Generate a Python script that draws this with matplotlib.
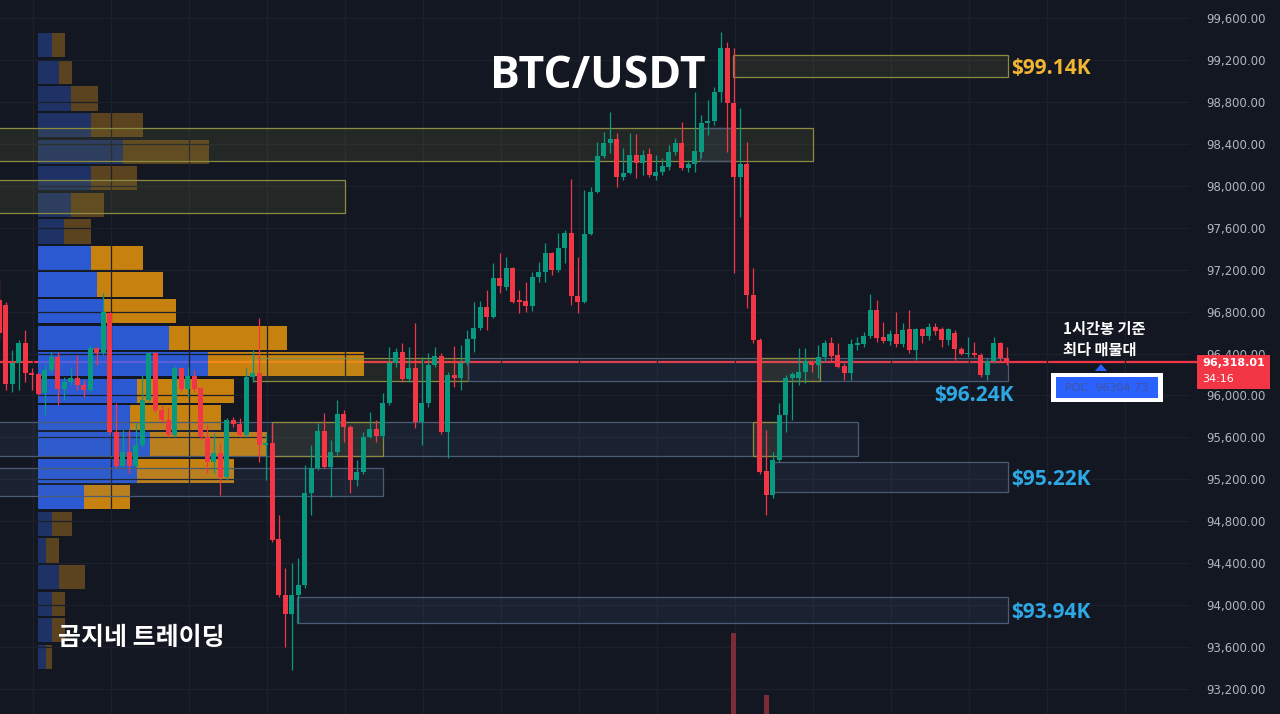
import numpy as np
import matplotlib.pyplot as plt
from matplotlib.patches import Rectangle, Polygon
from matplotlib.ticker import FuncFormatter

# 1h candles, oldest first (first one is cut at the left edge)
opens = [96910, 96860, 96110, 96310, 96500, 96213, 96204, 96023, 96242, 96367,
         96061, 96128, 96166, 96099, 96051, 96452, 96404, 96786, 95651, 95327,
         95460, 95327, 95527, 95956, 96404, 95861, 95765, 95622, 96261, 96061,
         96185, 96071, 95603, 95365, 95450, 95222, 95765, 95727, 95622, 96176,
         96213, 95527, 95546, 94630, 94096, 93915, 94096, 94191, 95069, 95307,
         95660, 95317, 95460, 95823, 95699, 95193, 95269, 95603, 95680, 95613,
         95928, 96309, 96414, 96156, 96261, 95746, 95928, 96290, 96376, 95651,
         96194, 96166, 96309, 96538, 96643, 96843, 96748, 97120, 97034, 97215,
         96910, 96900, 96853, 97130, 97177, 97358, 97196, 97411, 97549, 96948,
         96891, 97540, 97940, 98284, 98408, 98446, 98084, 98122, 98293, 98217,
         98303, 98093, 98131, 98179, 98322, 98408, 98170, 98208, 98322, 98598,
         98618, 98894, 99314, 98790, 98084, 98208, 96958, 96528, 95279, 95050,
         95384, 95813, 96166, 96166, 96223, 96318, 96290, 96367, 96500, 96385,
         96280, 96213, 96481, 96490, 96567, 96815, 96557, 96519, 96586, 96490,
         96634, 96433, 96634, 96567, 96653, 96634, 96528, 96595, 96443, 96395,
         96404, 96385, 96194, 96328, 96500, 96357]
highs = [97120, 96890, 96433, 96528, 96624, 96261, 96213, 96290, 96414, 96414,
         96176, 96261, 96385, 96147, 96481, 96461, 96977, 96796, 95928, 95670,
         95670, 95737, 96194, 96414, 96414, 95909, 95890, 96280, 96271, 96271,
         96242, 96080, 95718, 95641, 95546, 95784, 95794, 95784, 96261, 96433,
         96738, 95641, 95737, 94859, 94353, 94401, 94449, 95336, 95527, 95737,
         95832, 95574, 95956, 95861, 95718, 95384, 95651, 95842, 95765, 96023,
         96461, 96452, 96500, 96461, 96691, 96367, 96404, 96461, 96404, 96223,
         96471, 96481, 96624, 96891, 96900, 97005, 97263, 97358, 97320, 97225,
         97005, 97082, 97177, 97273, 97454, 97368, 97549, 97578, 98065, 97320,
         97959, 97988, 98417, 98513, 98704, 98503, 98360, 98503, 98494, 98341,
         98360, 98293, 98265, 98389, 98456, 98608, 98246, 98894, 98675, 98818,
         98942, 99467, 99371, 99314, 98742, 98417, 97215, 96548, 95670, 95460,
         95928, 96194, 96223, 96452, 96452, 96338, 96481, 96528, 96557, 96500,
         96309, 96538, 96557, 96605, 96967, 96910, 96700, 96624, 96796, 96691,
         96815, 96643, 96643, 96691, 96691, 96653, 96643, 96624, 96461, 96557,
         96509, 96404, 96357, 96557, 96509, 96461]
lows = [96528, 96051, 96032, 96051, 96128, 96051, 96004, 95813, 96213, 95909,
        95956, 96099, 96051, 95985, 96032, 96290, 96385, 95632, 95307, 95317,
        95260, 95317, 95508, 95937, 95842, 95746, 95603, 95603, 96042, 95985,
        96032, 95574, 95260, 95260, 95050, 95193, 95699, 95603, 95603, 96128,
        95365, 95193, 94601, 94077, 93599, 93380, 93829, 94162, 94859, 95288,
        95307, 95030, 95431, 95555, 95069, 95136, 95250, 95593, 95555, 95593,
        95909, 96271, 96128, 96128, 95689, 95527, 95890, 96271, 95632, 95403,
        96080, 96051, 96290, 96414, 96624, 96624, 96738, 96977, 97005, 96881,
        96786, 96796, 96805, 97082, 97082, 97148, 97177, 97263, 96862, 96786,
        96881, 97530, 97930, 98265, 98313, 97988, 98055, 98112, 98074, 98103,
        98084, 98055, 98103, 98150, 98293, 98150, 98131, 98131, 98265, 98484,
        98580, 98799, 98322, 97168, 97702, 96834, 96500, 95250, 94859, 95021,
        95365, 95651, 95765, 96099, 96118, 96223, 96166, 96318, 96318, 96261,
        96147, 96147, 96433, 96461, 96548, 96509, 96500, 96481, 96461, 96461,
        96404, 96338, 96500, 96528, 96576, 96461, 96481, 96338, 96385, 96367,
        96367, 96176, 96147, 96309, 96318, 96290]
closes = [96595, 96110, 96310, 96500, 96213, 96194, 96013, 96242, 96367, 96061,
          96128, 96166, 96099, 96051, 96452, 96404, 96796, 95651, 95327, 95460,
          95327, 95527, 95956, 96404, 95861, 95765, 95622, 96261, 96061, 96185,
          96061, 95603, 95365, 95450, 95222, 95765, 95727, 95622, 96176, 96213,
          95527, 95546, 94620, 94096, 93915, 94096, 94191, 95069, 95307, 95660,
          95317, 95460, 95823, 95699, 95193, 95269, 95603, 95680, 95613, 95928,
          96309, 96414, 96156, 96261, 95746, 95928, 96290, 96376, 95651, 96194,
          96166, 96309, 96538, 96643, 96843, 96748, 97120, 97044, 97215, 96891,
          96891, 96853, 97130, 97177, 97358, 97196, 97411, 97549, 96948, 96891,
          97540, 97940, 98284, 98408, 98446, 98084, 98122, 98293, 98217, 98293,
          98103, 98131, 98189, 98322, 98408, 98170, 98208, 98332, 98598, 98618,
          98894, 99314, 98790, 98084, 98208, 96958, 96528, 95269, 95050, 95384,
          95813, 96166, 96204, 96223, 96328, 96290, 96367, 96500, 96376, 96271,
          96213, 96490, 96500, 96567, 96815, 96548, 96519, 96586, 96490, 96624,
          96433, 96634, 96567, 96653, 96615, 96528, 96634, 96443, 96395, 96404,
          96385, 96194, 96328, 96500, 96357, 96318.01]

# visible range volume profile, rows bottom -> top
vp_up = [8, 14, 14, 21, 8, 14, 46, 99, 112, 92, 99, 170, 131, 66, 59, 53, 26, 33, 53, 85, 53, 33, 21, 14]
vp_down = [6, 13, 13, 26, 13, 20, 46, 97, 117, 91, 97, 156, 118, 72, 66, 52, 27, 33, 46, 86, 52, 27, 13, 13]

# the two volume bars that reach into the picture
vol_idx = [112, 117]
vol_val = [1620, 380]

# supply/demand boxes: first candle, last candle, low, high, kind
zones = [
    (111.9, 154.2, 99035, 99245, 'y'),
    (-1.5, 124.2, 98236, 98551, 'y'),
    (106.8, 112.2, 98236, 98551, 'b'),
    (-1.5, 52.2, 97740, 98055, 'y'),
    (38.0, 71.1, 96137, 96357, 'y'),
    (71.1, 154.2, 96137, 96357, 'b'),
    (116.0, 125.3, 96137, 96357, 'y'),
    (-1.5, 131.1, 95422, 95746, 'b'),
    (41.0, 58.0, 95422, 95746, 'y'),
    (115.0, 119.0, 95422, 95746, 'y'),
    (-1.5, 58.0, 95040, 95307, 'b'),
    (118.0, 154.2, 95079, 95365, 'b'),
    (44.8, 154.2, 93829, 94077, 'b'),
]
zone_labels = [(0, '$99.14K', 'right'), (5, '$96.24K', 'below'),
               (11, '$95.22K', 'right'), (12, '$93.94K', 'right')]

last_price = 96318.01
poc_price = 96304.73
countdown = '34:16'
price_ticks = np.arange(93200, 99601, 400)

BG = '#131722'
GRID = '#1c202b'
GREEN = '#089981'
RED = '#f23645'
plt.rcParams['font.family'] = ['DejaVu Sans']

W, H = 1280, 714
fig = plt.figure(figsize=(W / 100, H / 100), dpi=100, facecolor=BG)
rect = [0, 0, 1190 / W, 1]
pax = fig.add_axes(rect, zorder=0)
ax = fig.add_axes(rect, zorder=1)
vax = fig.add_axes(rect, zorder=2)

o, h, l, c = (np.array(a, float) for a in (opens, highs, lows, closes))
idx = np.arange(len(o)) - 1
ylo, yhi = 92962, 99772
xl = (-5.7 / 6.5, (1190 - 5.7) / 6.5)

# ---- volume profile (behind everything)
pax.set_xlim(-38, 1152)
pax.set_ylim(ylo, yhi)
pax.axis('off')
pax.axhline(last_price, xmin=0, xmax=1197 / 1190, color=RED, lw=1.6, clip_on=False, zorder=1)

tot = np.array(vp_up) + np.array(vp_down)
poc = int(np.argmax(tot))
a = b = poc
acc = tot[poc]
while acc < 0.7 * tot.sum():
    up_v = tot[b + 1] if b + 1 < len(tot) else -1
    dn_v = tot[a - 1] if a > 0 else -1
    if up_v >= dn_v:
        b += 1
        acc += up_v
    else:
        a -= 1
        acc += dn_v
in_va = (np.arange(len(tot)) >= a) & (np.arange(len(tot)) <= b)

edges = np.linspace(l.min(), h.max(), len(tot) + 1)
mids = (edges[:-1] + edges[1:]) / 2
rh = (edges[1] - edges[0]) * 0.91
blue_c = np.where(in_va, '#316aff', '#223a77')
orng_c = np.where(in_va, '#f59d0a', '#6e4f20')
pax.barh(mids, vp_up, height=rh, color=blue_c, alpha=0.8, lw=0, zorder=2)
pax.barh(mids, vp_down, height=rh, left=vp_up, color=orng_c, alpha=0.8, lw=0, zorder=2)

# ---- volume bars
vax.set_xlim(*xl)
vax.set_ylim(0, 14280)
vax.axis('off')
vax.bar(vol_idx, vol_val, width=0.8, color='#7b2c36', lw=0)

# ---- main price pane
ax.set_xlim(*xl)
ax.set_ylim(ylo, yhi)
ax.set_facecolor('none')
for s in ax.spines.values():
    s.set_visible(False)
ax.set_yticks(price_ticks)
ax.yaxis.tick_right()
ax.yaxis.set_major_formatter(FuncFormatter(lambda v, p: f'{v:,.2f}'))
ax.tick_params(axis='y', length=0, pad=12, labelsize=8.5, labelcolor='#b2b5be')
ax.set_xticks(np.arange(4.2, 183, 12))
ax.tick_params(axis='x', length=0, labelbottom=False)
ax.grid(True, color=GRID, lw=0.9)
ax.set_axisbelow(True)

for x0, x1, zl, zh, kind in zones:
    if kind == 'y':
        fc, ec = (0.59, 0.59, 0.24, 0.13), '#8d8b3f'
    else:
        fc, ec = (0.35, 0.47, 0.67, 0.11), '#4a5b73'
    ax.add_patch(Rectangle((x0, zl), x1 - x0, zh - zl, facecolor=fc, edgecolor=ec, lw=0.9, zorder=3))

for zi, txt, where in zone_labels:
    x0, x1, zl, zh, kind = zones[zi]
    col = '#f2b531' if kind == 'y' else '#2ea7e5'
    if where == 'right':
        ax.annotate(txt, xy=(x1, (zl + zh) / 2), xytext=(2.5, -1.5), textcoords='offset points',
                    ha='left', va='center', color=col, fontsize=15, family='Open Sans',
                    fontweight='bold', zorder=6)
    else:
        ax.annotate(txt, xy=(x1, zl), xytext=(4, -3), textcoords='offset points',
                    ha='right', va='top', color=col, fontsize=15, family='Open Sans',
                    fontweight='bold', zorder=6)

up = c >= o
cols = np.where(up, GREEN, RED)
ax.vlines(idx, l, h, colors=cols, lw=0.9, zorder=4)
ax.bar(idx, np.maximum(np.abs(c - o), 12), bottom=np.minimum(o, c), width=0.72,
       color=cols, lw=0, zorder=5)

# ---- texts and overlays (pixel layout)
def fx(x):
    return x / W

def fy(y):
    return 1 - y / H

fig.text(fx(598), fy(76), 'BTC/USDT', color='white', fontsize=32, fontweight='bold',
         family='Open Sans', ha='center', va='center')
fig.text(fx(141), fy(638), '곰지네 트레이딩', color='white', fontsize=18, fontweight='bold',
         family=['Noto Sans CJK KR', 'DejaVu Sans'], ha='center', va='center')
fig.text(fx(1063), fy(329), '1시간봉 기준', color='white', fontsize=11, fontweight='bold',
         family=['Noto Sans CJK KR', 'DejaVu Sans'], ha='left', va='center')
fig.text(fx(1063), fy(350), '최다 매물대', color='white', fontsize=11, fontweight='bold',
         family=['Noto Sans CJK KR', 'DejaVu Sans'], ha='left', va='center')

fig.add_artist(Rectangle((fx(1051), fy(402)), 112 / W, 29 / H, transform=fig.transFigure,
                         facecolor='white', edgecolor='none', zorder=5))
fig.add_artist(Rectangle((fx(1056), fy(398)), 102 / W, 21 / H, transform=fig.transFigure,
                         facecolor='#2962ff', edgecolor='none', zorder=6))
fig.add_artist(Polygon([[fx(1095), fy(371)], [fx(1107), fy(371)], [fx(1101), fy(364)]],
                       closed=True, transform=fig.transFigure, facecolor='#2962ff',
                       edgecolor='none', zorder=6))
fig.text(fx(1107), fy(388), f'POC: {poc_price:.2f}', color='#43539a', fontsize=8,
         ha='center', va='center', zorder=7)

yd = ax.transData.transform((0, last_price))[1]
fig.add_artist(Rectangle((fx(1197), (yd - 27) / H), 73 / W, 34 / H, transform=fig.transFigure,
                         facecolor=RED, edgecolor='none', zorder=5))
fig.text(fx(1202), (yd - 1) / H, f'{last_price:,.2f}', color='white', fontsize=8,
         fontweight='bold', ha='left', va='center', zorder=7)
fig.text(fx(1202), (yd - 17) / H, countdown, color='white', fontsize=8,
         ha='left', va='center', zorder=7)

fig.savefig('out.png', dpi=100, facecolor=BG)
